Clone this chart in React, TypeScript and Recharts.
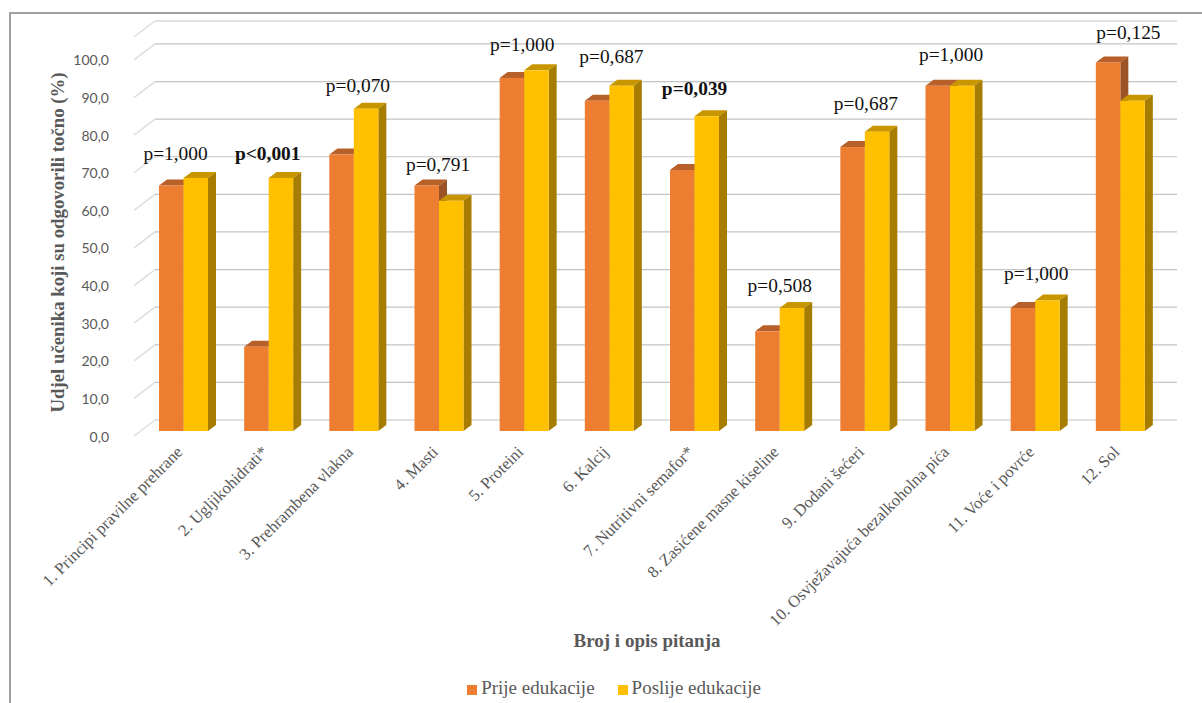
import {
  ComposedChart,
  Bar,
  Line,
  XAxis,
  YAxis,
  CartesianGrid,
  Legend,
  LabelList,
} from "recharts";

const questions = [
  "1. Principi pravilne prehrane",
  "2. Ugljikohidrati*",
  "3. Prehrambena vlakna",
  "4. Masti",
  "5. Proteini",
  "6. Kalcij",
  "7. Nutritivni semafor*",
  "8. Zasićene masne kiseline",
  "9. Dodani šećeri",
  "10. Osvježavajuća bezalkoholna pića",
  "11. Voće i povrće",
  "12. Sol",
];
const before = [65.3, 22.4, 73.5, 65.3, 93.9, 87.8, 69.4, 26.5, 75.5, 91.8, 32.7, 98.0];
const after = [67.3, 67.3, 85.7, 61.2, 95.9, 91.8, 83.7, 32.7, 79.6, 91.8, 34.7, 87.8];
const pValues = ["p=1,000", "p<0,001", "p=0,070", "p=0,791", "p=1,000", "p=0,687", "p=0,039", "p=0,508", "p=0,687", "p=1,000", "p=1,000", "p=0,125"];
const boldP = ["p<0,001", "p=0,039"];
// height of each p label, read in axis units
const pLevels = [73.7, 73.7, 92, 70.8, 102.7, 99.5, 91.2, 38.7, 87, 100, 41.9, 106.1];
const pNudge = [-8, -1, 4, -1, -2, 2, 0, 0, 1, 1, 1, 8];
const yTicks = [0, 10, 20, 30, 40, 50, 60, 70, 80, 90, 100];

const data = questions.map((q, i) => ({
  q,
  before: before[i],
  after: after[i],
  level: pLevels[i],
  p: pValues[i],
}));

const SERIF = "'Liberation Serif', serif";
const GREY = "#595959";

const Bar3D = (top: string, side: string) => (props: any) => {
  const { x, y, width, height, fill } = props;
  const dx = 8;
  const dy = 6;
  return (
    <g>
      <polygon
        points={`${x},${y} ${x + dx},${y - dy} ${x + width + dx},${y - dy} ${x + width},${y}`}
        fill={top}
      />
      <polygon
        points={`${x + width},${y} ${x + width + dx},${y - dy} ${x + width + dx},${y + height - dy} ${x + width},${y + height}`}
        fill={side}
      />
      <rect x={x} y={y} width={width} height={height} fill={fill} />
    </g>
  );
};

// back wall line plus the short slanted piece on the side wall
const GridLine3D = (props: any) => {
  const { x1, x2, y1 } = props;
  return (
    <g key={props.key}>
      <line x1={x1 - 7} y1={y1 + 5} x2={x1 + 14} y2={y1 - 11} stroke="#dedede" strokeWidth={1.5} />
      <line x1={x1 + 14} y1={y1 - 11} x2={x2 + 14} y2={y1 - 11} stroke="#c4c4c4" strokeWidth={1.2} />
    </g>
  );
};

const YTick = ({ x, y, payload }: any) => (
  <text
    x={x - 24}
    y={y + 5}
    textAnchor="end"
    dominantBaseline="central"
    fontFamily="Lato"
    fontSize={14}
    fill={GREY}
  >
    {payload.value.toFixed(1).replace(".", ",")}
  </text>
);

const XTick = ({ x, y, payload }: any) => (
  <text
    transform={`translate(${x},${y + 14}) rotate(-45)`}
    textAnchor="end"
    fontFamily={SERIF}
    fontSize={16.6}
    fill={GREY}
  >
    {payload.value}
  </text>
);

const PLabel = ({ x, y, value, index }: any) => (
  <text
    x={x + pNudge[index]}
    y={y}
    textAnchor="middle"
    dominantBaseline="central"
    fontFamily={SERIF}
    fontSize={19.4}
    fontWeight={boldP.includes(value) ? "bold" : "normal"}
    fill="#111"
  >
    {value}
  </text>
);

const App = () => {
  return (
    <div
      style={{
        position: "absolute",
        left: 0,
        top: 0,
        width: 1202,
        height: 703,
        background: "#fff",
        overflow: "hidden",
      }}
    >
      <div
        style={{
          position: "absolute",
          left: 9,
          top: 12,
          width: 1193,
          height: 691,
          boxSizing: "border-box",
          borderTop: "2px solid #a0a0a0",
          borderLeft: "2px solid #a0a0a0",
        }}
      />
      <ComposedChart
        width={1202}
        height={703}
        data={data}
        margin={{ top: 32, right: 39, bottom: 0, left: 0 }}
        barSize={24.5}
        barGap={0}
      >
        <CartesianGrid vertical={false} horizontal={GridLine3D} />
        <XAxis
          dataKey="q"
          interval={0}
          height={272}
          tick={XTick}
          tickLine={false}
          axisLine={false}
          label={{
            value: "Broj i opis pitanja",
            position: "insideTop",
            offset: 203,
            dx: -5,
            style: { fontFamily: SERIF, fontSize: 19, fontWeight: "bold", fill: GREY },
          }}
        />
        <YAxis
          width={141}
          domain={[0, 100]}
          ticks={yTicks}
          tick={YTick}
          tickLine={false}
          axisLine={false}
          label={{
            value: "Udjel učenika koji su odgovorili točno (%)",
            angle: -90,
            position: "insideLeft",
            offset: 57,
            dy: 11,
            style: { fontFamily: SERIF, fontSize: 18.8, fontWeight: "bold", fill: GREY, textAnchor: "middle" },
          }}
        />
        <Legend
          verticalAlign="middle"
          iconType="square"
          iconSize={10}
          itemSorter={null}
          formatter={(v: string, _e: any, i: number) => (
            <span style={{ color: GREY, paddingRight: i === 0 ? 13 : 0 }}>{v}</span>
          )}
          wrapperStyle={{ top: 677, left: 0, width: 1238, fontFamily: SERIF, fontSize: 19 }}
        />
        <Bar
          dataKey="before"
          name="Prije edukacije"
          fill="#ED7D31"
          shape={Bar3D("#B8602A", "#9C5325")}
          isAnimationActive={false}
        />
        <Bar
          dataKey="after"
          name="Poslije edukacije"
          fill="#FFC000"
          shape={Bar3D("#C79600", "#A67D00")}
          isAnimationActive={false}
        />
        <Line
          dataKey="level"
          stroke="none"
          dot={false}
          activeDot={false}
          legendType="none"
          isAnimationActive={false}
        >
          <LabelList dataKey="p" content={PLabel} />
        </Line>
      </ComposedChart>
    </div>
  );
};

export default App;
